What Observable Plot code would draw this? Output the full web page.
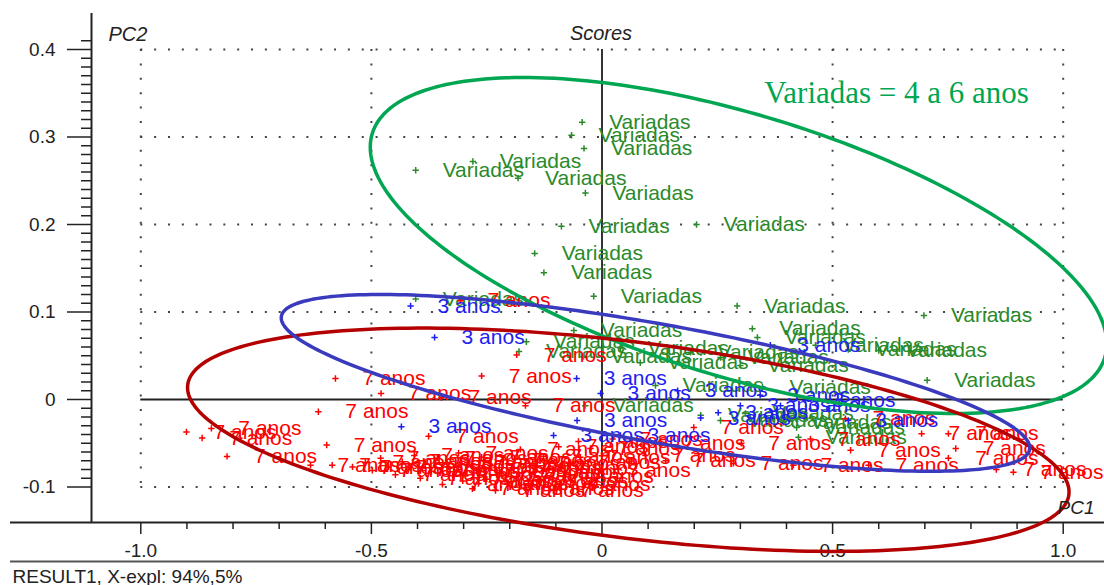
<!DOCTYPE html>
<html><head><meta charset="utf-8">
<script src="https://cdn.jsdelivr.net/npm/d3@7"></script>
<script src="https://cdn.jsdelivr.net/npm/@observablehq/plot@0.6"></script>
<style>
body{margin:0;background:#fff;}
#chart svg{display:block;font-family:"Liberation Sans",Arial,sans-serif;}
</style></head><body><div id="chart"></div>
<script>
// ---- data ----
const variadasX = [-0.043,-0.066,-0.039,-0.280,-0.404,-0.182,-0.036,-0.088,0.205,-0.146,-0.126,-0.018,-0.404,0.293,0.698,0.326,0.337,-0.061,-0.164,-0.180,0.705,0.348,0.534,0.463,0.600,0.040,-0.040,0.257,0.116,-0.036,0.214,0.257,0.422,0.426,0.393,0.311,0.083,0.300,0.192];
const variadasY = [0.317,0.302,0.287,0.272,0.262,0.253,0.236,0.198,0.200,0.167,0.145,0.118,0.115,0.107,0.096,0.081,0.071,0.079,0.066,0.055,0.022,0.014,0.057,0.062,0.056,0.059,0.049,0.048,0.016,-0.007,-0.018,-0.024,-0.032,-0.043,-0.026,-0.016,0.042,0.039,0.054];

const anos3X = [-0.415,-0.363,-0.055,-0.003,-0.435,-0.054,-0.105,0.164,0.300,0.214,0.365,0.534,0.343,0.387,0.040,0.441,0.252];
const anos3Y = [0.107,0.071,0.024,0.007,-0.031,-0.024,-0.041,0.010,-0.007,-0.021,0.062,-0.024,0.005,-0.007,-0.041,-0.001,-0.015];

const anos7X = [-0.901,-0.867,-0.847,-0.813,-0.615,-0.578,-0.479,-0.597,-0.585,-0.632,-0.261,-0.348,-0.166,-0.307,-0.185,-0.376,
  -0.047,0.094,0.138,0.116,0.199,0.302,0.285,0.415,0.452,0.528,0.539,0.578,0.693,0.751,0.767,0.751,0.855,0.892,-0.090,-0.268,
  -0.541,-0.513,-0.498,-0.480,-0.463,-0.448,-0.433,-0.420,-0.407,-0.394,-0.383,-0.370,-0.357,-0.346,-0.333,-0.324,-0.311,-0.302,-0.292,-0.281,-0.272,-0.261,-0.250,-0.242,-0.231,-0.222,-0.214,-0.205,-0.196,-0.185,-0.177,-0.168,-0.157,-0.149,-0.138,-0.127,-0.116,-0.105,-0.094,-0.083,-0.068,-0.051,-0.025,-0.003,0.023];
const anos7Y = [-0.037,-0.044,-0.033,-0.065,-0.014,0.024,0.007,-0.052,-0.075,-0.075,0.027,0.002,-0.007,0.113,0.051,-0.042,
  -0.066,-0.064,-0.070,-0.050,-0.032,-0.050,-0.073,-0.075,-0.045,-0.022,-0.058,-0.075,-0.039,-0.039,-0.056,-0.067,-0.080,-0.083,-0.097,-0.096,
  -0.077,-0.072,-0.081,-0.067,-0.077,-0.086,-0.071,-0.080,-0.064,-0.090,-0.074,-0.082,-0.067,-0.097,-0.077,-0.087,-0.061,-0.093,-0.072,-0.102,-0.081,-0.066,-0.091,-0.075,-0.104,-0.083,-0.069,-0.096,-0.078,-0.088,-0.057,-0.101,-0.073,-0.083,-0.093,-0.065,-0.079,-0.104,-0.054,-0.088,-0.072,-0.048,-0.056,-0.081,-0.045];

const groupLabels = ["Variadas", "7 anos", "3 anos"];
const groupColors = ["#2a8a2a", "#ff0000", "#1e1ef0"];

const xMajorTicks = [-1, -0.5, 0, 0.5, 1];
const yMajorTicks = [-0.1, 0, 0.1, 0.2, 0.3, 0.4];
const xGrid = [-1, -0.5, 0.5, 1];
const yGrid = [-0.1, 0.1, 0.2, 0.3, 0.4];

// ellipses: centre in data units, semi-axes in px, tilt in degrees
const ellipseNames = ["Variadas", "7 anos", "3 anos"];
const ellipseCX = [0.296, 0.057, 0.116];
const ellipseCY = [0.176, -0.046, 0.019];
const ellipseA = [383, 444, 380];
const ellipseB = [131, 98, 59];
const ellipseAngle = [17, 7.1, 10.1];
const ellipseColors = ["#00a651", "#b40000", "#3a3abf"];

const annotation = [{label: "Variadas = 4 a 6 anos", x: 0.352, y: 0.350}];
const footer = ["RESULT1, X-expl: 94%,5%"];

// ---- layout ----
const W = 1104, H = 585, mL = 91, mR = 0, mT = 13, mB = 63;
const xDomain = [-1.10690, 1.08955];
const yDomain = [-0.140571, 0.441143];
const sx = (W - mL - mR) / (xDomain[1] - xDomain[0]);
const sy = (H - mT - mB) / (yDomain[1] - yDomain[0]);

const xMinorTicks = d3.range(-10, 11).map(i => i / 10).filter(v => !xMajorTicks.some(t => Math.abs(t - v) < 1e-9));
const yMinorTicks = d3.range(-10, 42).map(i => i / 100).filter(v => !yMajorTicks.some(t => Math.abs(t - v) < 1e-9));

const fmt = d => Math.abs(d) < 1e-9 ? "0" : d.toFixed(1);

function pts(X, Y, label) { return X.map((x, i) => ({x, y: Y[i], label})); }
const sets = [pts(variadasX, variadasY, groupLabels[0]), pts(anos7X, anos7Y, groupLabels[1]), pts(anos3X, anos3Y, groupLabels[2])];

const ellipseData = ellipseNames.map((name, k) => {
  const th = ellipseAngle[k] * Math.PI / 180;
  return d3.range(0, 241).map(j => {
    const t = j / 240 * 2 * Math.PI;
    const px = ellipseA[k] * Math.cos(t) * Math.cos(th) - ellipseB[k] * Math.sin(t) * Math.sin(th);
    const py = ellipseA[k] * Math.cos(t) * Math.sin(th) + ellipseB[k] * Math.sin(t) * Math.cos(th);
    return {x: ellipseCX[k] + px / sx, y: ellipseCY[k] - py / sy, name};
  });
});

const dotted = {stroke: "#444", strokeWidth: 2};
const marks = [
  Plot.ruleY(yGrid, {x1: xGrid[0], x2: xGrid[xGrid.length - 1], ...dotted, strokeDasharray: "2,11.84"}),
  Plot.ruleX(xGrid, {y1: yGrid[yGrid.length - 1], y2: yGrid[0], ...dotted, strokeDasharray: "2,12.4"}),
  Plot.ruleY([0], {x1: xGrid[0], x2: xGrid[xGrid.length - 1], stroke: "#222", strokeWidth: 2}),
  Plot.ruleX([0], {y1: yGrid[yGrid.length - 1], y2: yGrid[0], stroke: "#333", strokeWidth: 2}),
  // axes
  Plot.ruleX([xDomain[0]], {stroke: "#222", strokeWidth: 2}),
  Plot.ruleY([yDomain[0]], {insetLeft: -81, stroke: "#222", strokeWidth: 2}),
  Plot.ruleY([yDomain[0]], {insetLeft: -81, dy: 39, stroke: "#555", strokeWidth: 2}),
  Plot.axisX(xMajorTicks, {anchor: "bottom", label: null, tickSize: 12, tickPadding: 9, tickFormat: fmt, fontSize: 19, color: "#222", strokeWidth: 1.5}),
  Plot.axisX(xMinorTicks, {anchor: "bottom", label: null, tickSize: 7, tickFormat: () => "", color: "#222", strokeWidth: 1.5}),
  Plot.axisY(yMajorTicks, {anchor: "left", label: null, tickSize: 24, tickPadding: 12, tickFormat: fmt, fontSize: 19, color: "#222", strokeWidth: 1.5}),
  Plot.axisY(yMinorTicks, {anchor: "left", label: null, tickSize: 10, tickFormat: () => "", color: "#222", strokeWidth: 1.5}),
];
sets.forEach((s, k) => {
  marks.push(Plot.dot(s, {x: "x", y: "y", symbol: "plus", r: 2.2, stroke: groupColors[k], strokeWidth: 1.5}));
  marks.push(Plot.text(s, {x: "x", y: "y", text: "label", dx: 27, textAnchor: "start", lineAnchor: "middle", fontSize: 21, fill: groupColors[k]}));
});
ellipseData.forEach((e, k) => {
  marks.push(Plot.line(e, {x: "x", y: "y", stroke: ellipseColors[k], strokeWidth: 3.5}));
});
marks.push(
  Plot.text(annotation, {x: "x", y: "y", text: "label", textAnchor: "start", lineAnchor: "middle", fontFamily: "Liberation Serif, Times New Roman, serif", fontSize: 31, fill: "#00a651"}),
  Plot.text(["PC2"], {text: d => d, frameAnchor: "top-left", dx: 17, dy: 21, textAnchor: "start", lineAnchor: "middle", fontSize: 20, fontStyle: "italic", fill: "#222"}),
  Plot.text(["Scores"], {text: d => d, frameAnchor: "top", dx: 3, dy: 20, lineAnchor: "middle", fontSize: 20, fontStyle: "italic", fill: "#222"}),
  Plot.text(["PC1"], {text: d => d, frameAnchor: "bottom-right", dx: -47, dy: -15, textAnchor: "start", lineAnchor: "middle", fontSize: 19, fontStyle: "italic", fill: "#222"}),
  Plot.text(footer, {text: d => d, frameAnchor: "bottom-left", dx: -79, dy: 54, textAnchor: "start", lineAnchor: "middle", fontSize: 19, fill: "#222"})
);

const chart = Plot.plot({
  width: W, height: H,
  marginLeft: mL, marginRight: mR, marginTop: mT, marginBottom: mB,
  x: {domain: xDomain, axis: null},
  y: {domain: yDomain, axis: null},
  style: {fontFamily: "Liberation Sans, Arial, sans-serif", fontSize: "19px", background: "#fff", overflow: "visible"},
  marks
});
document.getElementById("chart").append(chart);
</script></body></html>
